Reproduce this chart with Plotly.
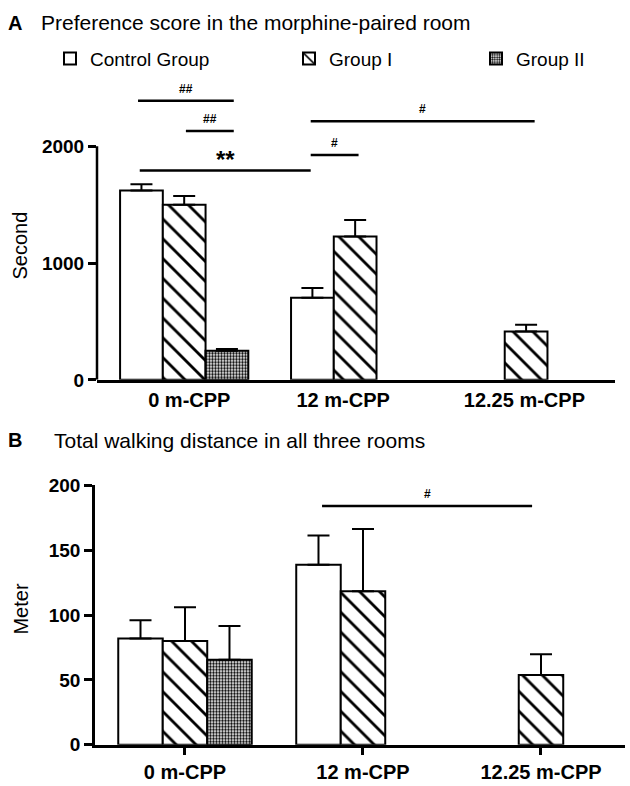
import plotly.graph_objects as go

# ---------------- data ----------------
categories = ["0 m-CPP", "12 m-CPP", "12.25 m-CPP"]
group_names = ["Control Group", "Group I", "Group II"]

# Panel A: preference score (seconds)
prefA_control = [1622, 703, None]
prefA_control_err = [53, 83, None]
prefA_group1 = [1500, 1228, 414]
prefA_group1_err = [75, 141, 58]
prefA_group2 = [250, None, None]
prefA_group2_err = [15, None, None]

# Panel B: walking distance (meters)
distB_control = [82, 138.7, None]
distB_control_err = [14, 22.5, None]
distB_group1 = [80, 118.3, 53.8]
distB_group1_err = [26, 48, 16]
distB_group2 = [65.5, None, None]
distB_group2_err = [26, None, None]

# significance brackets (x in category units, y in data units)
bracketA_x0 = [-0.27, 0.01, 0.74, 0.74, -0.26]
bracketA_x1 = [0.29, 0.29, 2.05, 1.02, 0.74]
bracketA_y = [2389, 2131, 2214, 1925, 1792]
bracketA_text = ["##", "##", "#", "#", "**"]
bracketB_x0 = [0.77]
bracketB_x1 = [1.95]
bracketB_y = [184]
bracketB_text = ["#"]

yticksA = [0, 1000, 2000]
yticksB = [0, 50, 100, 150, 200]

FONT = "Arial, Liberation Sans, sans-serif"
W, H = 630, 786
# small label placement tweak for panel A category labels (layout only)
LABEL_SHIFT_A = [0.03, -0.07, -0.01]

fig = go.Figure()

patterns = [
    dict(shape=""),
    dict(shape="\\", size=14, solidity=0.2, fgcolor="black", bgcolor="white", fgopacity=1),
    dict(shape=".", size=3, solidity=0.5, fgcolor="black", bgcolor="white", fgopacity=1),
]

def add_panel(vals, errs, xa, ya, show):
    for i, (v, e) in enumerate(zip(vals, errs)):
        fig.add_trace(go.Bar(
            x=categories, y=v, name=group_names[i],
            xaxis=xa, yaxis=ya,
            marker=dict(color="white", line=dict(color="black", width=2),
                        pattern=patterns[i]),
            error_y=dict(type="data", array=e, arrayminus=[0 if q is not None else None for q in e],
                         symmetric=False, color="black", thickness=2, width=11),
            showlegend=show,
            legend=["legend", "legend2", "legend3"][i],
        ))

add_panel([prefA_control, prefA_group1, prefA_group2],
          [prefA_control_err, prefA_group1_err, prefA_group2_err], "x", "y", True)
add_panel([distB_control, distB_group1, distB_group2],
          [distB_control_err, distB_group1_err, distB_group2_err], "x2", "y2", False)

def px2py(y):
    return 1 - y / H

line_common = dict(showgrid=False, zeroline=False, showline=True, linecolor="black",
                   linewidth=2.5, tickcolor="black", tickwidth=2.5)
xfont = dict(family=FONT, size=20, color="black", weight="bold")
yfont = dict(family=FONT, size=19, color="black", weight="bold")

fig.update_layout(
    width=W, height=H,
    margin=dict(l=0, r=0, t=0, b=0),
    paper_bgcolor="white", plot_bgcolor="white",
    barmode="group", bargap=0.25, bargroupgap=0,
    font=dict(family=FONT, color="black"),
    xaxis=dict(domain=[97 / W, 615 / W], range=[-0.51, 2.52], anchor="y",
               ticks="", tickmode="array",
               tickvals=[i + s for i, s in enumerate(LABEL_SHIFT_A)], ticktext=categories,
               tickfont=xfont, **line_common),
    yaxis=dict(domain=[px2py(380), px2py(86)], range=[0, 2450], anchor="x",
               ticks="outside", ticklen=8, tickvals=yticksA, tickfont=yfont,
               **{**line_common, "showline": False}),
    xaxis2=dict(domain=[95 / W, 625 / W], range=[-0.5056, 2.472], anchor="y2",
                ticks="outside", ticklen=7, tickfont=xfont, **line_common),
    yaxis2=dict(domain=[px2py(755), px2py(488.3)], range=[0, 200], anchor="x2",
                ticks="outside", ticklen=8, tickvals=yticksB, tickfont=yfont, **line_common),
    legend=dict(orientation="h", x=50 / W, y=px2py(50), xanchor="left", yanchor="middle",
                font=dict(family=FONT, size=19, color="black"), bgcolor="rgba(0,0,0,0)"),
    legend2=dict(orientation="h", x=289 / W, y=px2py(50), xanchor="left", yanchor="middle",
                 font=dict(family=FONT, size=19, color="black"), bgcolor="rgba(0,0,0,0)"),
    legend3=dict(orientation="h", x=476 / W, y=px2py(50), xanchor="left", yanchor="middle",
                 font=dict(family=FONT, size=19, color="black"), bgcolor="rgba(0,0,0,0)"),
)

# manual y-axis line for panel A (stops at 2000)
fig.add_shape(type="line", xref="x domain", yref="y", x0=0, x1=0, y0=0, y1=yticksA[-1],
              line=dict(color="black", width=2.5))

# brackets
for x0, x1, y, t in zip(bracketA_x0, bracketA_x1, bracketA_y, bracketA_text):
    fig.add_shape(type="line", xref="x", yref="y", x0=x0, x1=x1, y0=y, y1=y,
                  line=dict(color="black", width=2.5))
    big = t == "**"
    fig.add_annotation(x=(x0 + x1) / 2, y=y, xref="x", yref="y", text=t, showarrow=False,
                       yanchor="bottom", yshift=(-4 if big else 3),
                       font=dict(family=FONT, size=(24 if big else 12), color="black",
                                 weight="bold"))
for x0, x1, y, t in zip(bracketB_x0, bracketB_x1, bracketB_y, bracketB_text):
    fig.add_shape(type="line", xref="x2", yref="y2", x0=x0, x1=x1, y0=y, y1=y,
                  line=dict(color="black", width=2.5))
    fig.add_annotation(x=(x0 + x1) / 2, y=y, xref="x2", yref="y2", text=t, showarrow=False,
                       yanchor="bottom", yshift=3,
                       font=dict(family=FONT, size=12, color="black", weight="bold"))

# panel titles
def title(letter, text, ypx, xtext):
    fig.add_annotation(x=6 / W, y=px2py(ypx), xref="paper", yref="paper", text=f"<b>{letter}</b>",
                       showarrow=False, xanchor="left", yanchor="middle",
                       font=dict(family=FONT, size=20, color="black"))
    fig.add_annotation(x=xtext / W, y=px2py(ypx), xref="paper", yref="paper", text=text,
                       showarrow=False, xanchor="left", yanchor="middle",
                       font=dict(family=FONT, size=21, color="black"))

title("A", "Preference score in the morphine-paired room", 13, 39)
title("B", "Total walking distance in all three rooms", 442, 52)

# y-axis titles
fig.add_annotation(x=20 / W, y=px2py(242), xref="paper", yref="paper", text="Second",
                   textangle=-90, showarrow=False, xanchor="center", yanchor="middle",
                   font=dict(family=FONT, size=20, color="black"))
fig.add_annotation(x=21 / W, y=px2py(616), xref="paper", yref="paper", text="Meter",
                   textangle=-90, showarrow=False, xanchor="center", yanchor="middle",
                   font=dict(family=FONT, size=20, color="black"))

fig.write_html("out.html", config={"displayModeBar": False},
               post_script="document.body.style.margin='0px';document.body.style.overflow='hidden';")
